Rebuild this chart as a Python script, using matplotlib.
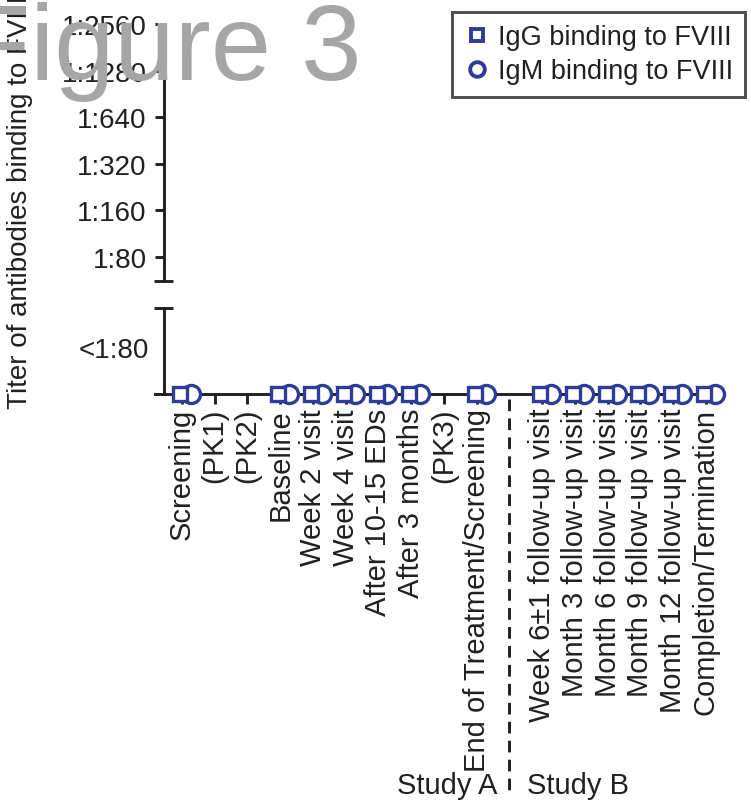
import numpy as np
import matplotlib; matplotlib.use("Agg")
import matplotlib.pyplot as plt
import matplotlib.transforms as mtransforms
from matplotlib.lines import Line2D

plt.rcParams['font.family'] = ['Liberation Sans', 'DejaVu Sans']

# ---- data (all titers below the detection limit -> plotted on the "<1:80" baseline) ----
categories = ["Screening", "(PK1)", "(PK2)", "Baseline", "Week 2 visit", "Week 4 visit",
              "After 10-15 EDs", "After 3 months", "(PK3)", "End of Treatment/Screening",
              "",  # study A / study B separator
              "Week 6\u00b11 follow-up visit", "Month 3 follow-up visit", "Month 6 follow-up visit",
              "Month 9 follow-up visit", "Month 12 follow-up visit", "Completion/Termination"]
nan = np.nan
igg = [0, nan, nan, 0, 0, 0, 0, 0, nan, 0, nan, 0, 0, 0, 0, 0, 0]
igm = [0, nan, nan, 0, 0, 0, 0, 0, nan, 0, nan, 0, 0, 0, 0, 0, 0]
upper_ticks = [80, 160, 320, 640, 1280, 2560]
upper_labels = ["1:80", "1:160", "1:320", "1:640", "1:1280", "1:2560"]
sep_idx = 10

BLUE = "#2c3c9c"
INK = "#231f20"
LW = 2.1
FS = 20
FSX = 21

W, H = 751, 803
fig = plt.figure(figsize=(W / 100, H / 100), dpi=100)
px = lambda x0, y0, x1, y1: [x0 / W, 1 - y1 / H, (x1 - x0) / W, (y1 - y0) / H]
axU = fig.add_axes(px(155, 25, 722, 282))
axL = fig.add_axes(px(155, 309, 722, 395))

xlo, xhi, yax = -0.824, 16.49, -0.55
x = np.arange(len(categories))
for ax in (axU, axL):
    ax.set_xlim(xlo, xhi)
    ax.patch.set_alpha(0)
    for s in ("top", "right"):
        ax.spines[s].set_visible(False)
    ax.spines["left"].set_position(("data", yax))
    for s in ax.spines.values():
        s.set_linewidth(LW)
        s.set_color(INK)

# upper (log2) segment
axU.set_yscale("log", base=2)
axU.set_ylim(80 * 2 ** (-24 / 46.6), 2560)
axU.set_yticks(upper_ticks)
axU.set_yticklabels(upper_labels)
axU.minorticks_off()
axU.spines["bottom"].set_visible(False)
axU.set_xticks([])
axU.tick_params(axis="y", direction="out", length=6.5, width=LW, pad=6, labelsize=FS,
                color=INK, labelcolor=INK)

# lower segment
axL.set_ylim(0, 1)
axL.set_yticks([0.55])
axL.set_yticklabels(["<1:80"])
axL.tick_params(axis="y", length=0, pad=11, labelsize=FS, labelcolor=INK)
tick_pos = [i for i in x if i != sep_idx]
axL.set_xticks(tick_pos)
axL.set_xticklabels([categories[i] for i in tick_pos], rotation=90)
axL.tick_params(axis="x", direction="out", length=7, width=LW, pad=3, labelsize=FSX,
                color=INK, labelcolor=INK)

# break caps
axU.plot([yax - 0.29, yax + 0.29], [axU.get_ylim()[0]] * 2, color=INK, lw=LW, clip_on=False,
         solid_capstyle="butt")
axL.plot([yax - 0.29, yax + 0.29], [1, 1], color=INK, lw=LW, clip_on=False, solid_capstyle="butt")

# markers
axL.plot(x + 0.27, igm, "o", ms=13, mfc="white", mec=BLUE, mew=2.4, clip_on=False, zorder=4)
axL.plot(x - 0.06, igg, "s", ms=10.5, mfc="white", mec=BLUE, mew=2.4, clip_on=False, zorder=5)

# study separator
tr = mtransforms.blended_transform_factory(axL.transData, axL.transAxes)
axL.plot([sep_idx, sep_idx], [-0.06, -4.65], transform=tr, color=INK, lw=LW,
         linestyle=(0, (4, 2.5)), clip_on=False)
fig.text(497 / W, 1 - 786 / H, "Study A", ha="right", va="center", fontsize=FSX, color=INK)
fig.text(527 / W, 1 - 786 / H, "Study B", ha="left", va="center", fontsize=FSX, color=INK)

# y label
fig.text(20 / W, 1 - 202 / H, "Titer of antibodies binding to FVIII", rotation=90,
         ha="center", va="center", fontsize=FS, color=INK)

# legend
handles = [Line2D([], [], ls="none", marker="s", ms=8.5, mfc="white", mec=BLUE, mew=2.8),
           Line2D([], [], ls="none", marker="o", ms=10.5, mfc="white", mec=BLUE, mew=2.8)]
leg = fig.legend(handles, ["IgG binding to FVIII", "IgM binding to FVIII"], loc="upper right",
                 bbox_to_anchor=(745 / W, 1 - 13 / H), fontsize=19.5, frameon=True, fancybox=False,
                 edgecolor=INK, borderpad=0.45, handletextpad=0.25, labelspacing=0.3,
                 handlelength=1.0, borderaxespad=0)
leg.get_frame().set_linewidth(LW)
for t in leg.get_texts():
    t.set_color(INK)

# overlay title
fig.text(-36 / W, 1 - 80 / H, "Figure 3", fontsize=78, color="#a6a6a6", va="baseline",
         ha="left", zorder=10)

fig.savefig("out.png", dpi=100)
